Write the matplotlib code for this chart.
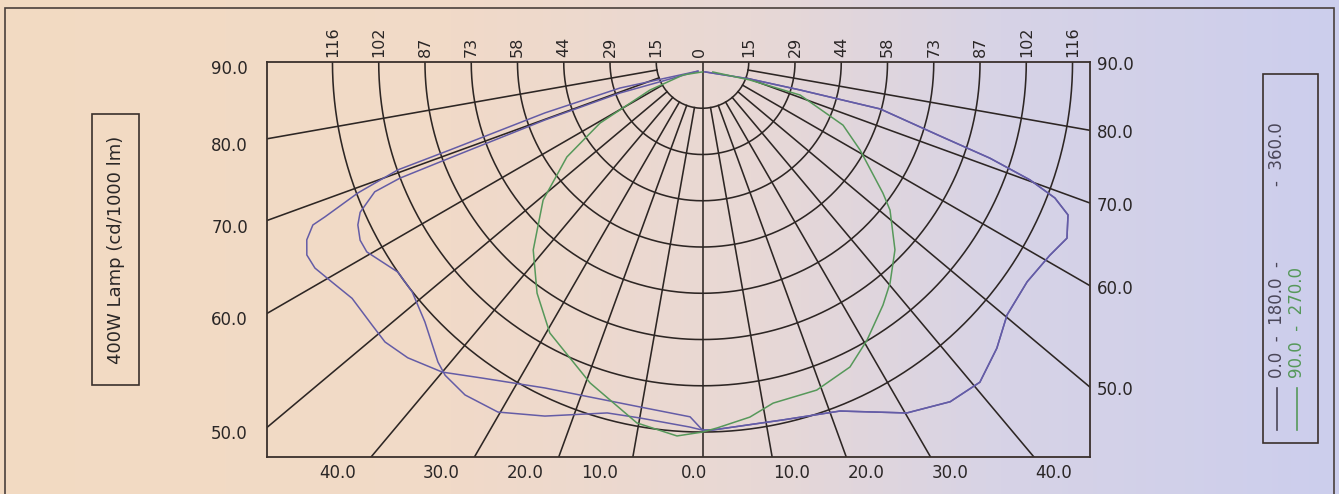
import numpy as np
import matplotlib
matplotlib.use("Agg")
import matplotlib.pyplot as plt
from matplotlib.patches import Rectangle
from matplotlib.lines import Line2D

# ---------------- data ----------------
# ring intensities (cd/1000 lm) and their printed labels
ring_values = [14.5, 29.0, 43.5, 58.0, 72.5, 87.0, 101.5, 116.0]
ring_labels = ["15", "29", "44", "58", "73", "87", "102", "116"]
# radial (gamma) grid angles
ray_angles = [0, 10, 20, 30, 40, 50, 60, 70, 80]
side_label_angles = [90, 80, 70, 60, 50]
bottom_label_angles = [0, 10, 20, 30, 40]

# C0 half (right side, purple)
c0_gamma = [0, 1.6, 12.7, 21.5, 30.2, 36.1, 40.9, 45.8, 50.3, 55.9, 60.9, 64.2,
            67.3, 68.9, 70.2, 71.5, 72.7, 75.2, 74.0, 70.3, 14.0]
c0_int = [115.4, 115.4, 115.0, 117.6, 127.3, 131.8, 132.8, 128.7, 124.1, 122.9,
          124.6, 126.9, 124.2, 118.4, 109.1, 95.0, 78.0, 57.6, 31.8, 15.8, 3.2]

# C180 half (left side, outer purple)
c180_gamma = [0, 2.0, 10.3, 18.6, 25.8, 34.9, 40.0, 44.9, 48.6, 51.5, 56.0, 59.3,
              62.0, 64.0, 65.8, 67.3, 67.7, 69.2, 70.5, 70.8, 72.1, 72.5, 26.6]
c180_int = [115.4, 111.3, 109.9, 110.8, 113.5, 120.8, 126.9, 130.9, 132.7, 132.4,
            132.5, 135.1, 137.6, 138.0, 136.0, 132.4, 127.9, 115.5, 101.3, 83.8,
            51.9, 27.1, 3.2]

# second left half (inner purple)
c360_gamma = [0, 2.0, 10.0, 15.2, 24.0, 30.3, 35.5, 39.4, 41.4, 46.9, 51.6, 55.4,
              60.5, 62.5, 64.7, 66.3, 68.4, 69.0, 69.2, 69.8, 69.4, 26.6]
c360_int = [115.4, 114.5, 113.3, 114.0, 121.5, 127.1, 128.2, 127.1, 125.4, 119.2,
            116.1, 116.0, 120.9, 121.0, 119.5, 117.2, 110.5, 101.6, 84.7, 52.6,
            27.6, 3.2]

# C90 half (right side, green)
c90_gamma = [0, 2.3, 7.6, 11.7, 19.2, 25.8, 30.6, 36.6, 40.3, 45.7, 51.7, 54.0,
             60.8, 65.8, 71.3, 69.2, 46.0]
c90_int = [116.0, 114.8, 112.3, 109.2, 108.9, 106.2, 101.3, 94.9, 90.9, 84.3,
           74.9, 69.9, 56.6, 48.3, 32.3, 15.9, 4.5]

# C270 half (left side, green)
c270_gamma = [0, 3.9, 10.3, 19.3, 29.4, 35.6, 42.0, 49.1, 55.0, 59.2, 61.9, 56.3, 0]
c270_int = [116.0, 117.5, 115.0, 106.6, 97.5, 89.1, 79.3, 66.1, 51.9, 37.4, 18.7,
            7.3, 3.1]

ylabel_text = "400W Lamp (cd/1000 lm)"
legend_text_1a = "0.0  -  180.0  -"
legend_text_1b = "-  360.0"
legend_text_2 = "90.0  -  270.0"

# ---------------- layout ----------------
W, H = 1339, 494
PX = 3.19                      # pixels per cd/klm
CX, CY = 702.5, 62             # pole position in pixels
AX_L, AX_R, AX_T, AX_B = 267, 1090, 62, 457

GRID = "#2d2624"
PURPLE = "#645ca6"
GREEN = "#56985a"
TXT = "#2a2626"
LEG1 = "#4a4658"

plt.rcParams['font.family'] = ['DejaVu Sans']


def fx(px):
    return px / W


def fy(py):
    return 1 - py / H


fig = plt.figure(figsize=(W / 100, H / 100), dpi=100)

# background gradient
bg = fig.add_axes([0, 0, 1, 1])
bg.axis('off')
xs = np.arange(W)
stops_x = [0, 450, 750, 1000, 1339]
stops_c = [(243, 218, 194), (241, 218, 200), (232, 216, 213), (215, 211, 230), (204, 206, 237)]
grad = np.zeros((1, W, 3))
for ch in range(3):
    grad[0, :, ch] = np.interp(xs, stops_x, [c[ch] for c in stops_c]) / 255.0
bg.imshow(grad, aspect='auto', extent=[0, 1, 0, 1], zorder=0)
bg.set_xlim(0, 1)
bg.set_ylim(0, 1)

# outer frame
fig.patches.append(Rectangle((fx(5), -0.05), fx(1334) - fx(5), fy(8) + 0.05,
                             transform=fig.transFigure, fill=False,
                             edgecolor="#4a403c", lw=1.2, zorder=1))

# main axes
ax = fig.add_axes([fx(AX_L), fy(AX_B), fx(AX_R) - fx(AX_L), fy(AX_T) - fy(AX_B)])
ax.set_facecolor('none')
xmin = -(CX - AX_L) / PX
xmax = (AX_R - CX) / PX
ymin = -(AX_B - CY) / PX
ax.set_xlim(xmin, xmax)
ax.set_ylim(ymin, 0)
ax.set_xticks([])
ax.set_yticks([])
for sp in ax.spines.values():
    sp.set_color("#3a302c")
    sp.set_linewidth(1.3)

# rings
th = np.radians(np.linspace(-90, 90, 361))
for r in ring_values:
    ax.plot(r * np.sin(th), -r * np.cos(th), color=GRID, lw=1.15, zorder=2)

# rays
rr = np.array([ring_values[0], 400])
for a in ray_angles:
    g = np.radians(a)
    if a == 0:
        ax.plot([0, 0], [0, -400], color=GRID, lw=1.15, zorder=2)
        continue
    for side in (-1, 1):
        ax.plot(side * rr * np.sin(g), -rr * np.cos(g), color=GRID, lw=1.15, zorder=2)


def to_xy(gamma, inten, side):
    g = np.radians(np.asarray(gamma, float))
    i = np.asarray(inten, float)
    return side * i * np.sin(g), -i * np.cos(g)


def full_curve(left_g, left_i, right_g, right_i):
    lx, ly = to_xy(left_g, left_i, -1)
    rx, ry = to_xy(right_g, right_i, 1)
    return np.concatenate([lx[::-1], rx]), np.concatenate([ly[::-1], ry])


x1, y1 = full_curve(c180_gamma, c180_int, c0_gamma, c0_int)
x2, y2 = full_curve(c360_gamma, c360_int, c0_gamma, c0_int)
x3, y3 = full_curve(c270_gamma, c270_int, c90_gamma, c90_int)
for xx, yy, col in ((x1, y1, PURPLE), (x2, y2, PURPLE), (x3, y3, GREEN)):
    ax.plot(xx, yy, color=col, lw=1.1, zorder=3, solid_joinstyle='round')

# top ring labels
for r, lab in zip(ring_values, ring_labels):
    for side in (-1, 1):
        ax.annotate(lab, (side * r, 0), xytext=(0, 5), textcoords='offset pixels',
                    rotation=90, ha='center', va='bottom', fontsize=11.5,
                    color=TXT, annotation_clip=False)
ax.annotate("0", (0, 0), xytext=(-3, 5), textcoords='offset pixels',
            rotation=90, ha='center', va='bottom', fontsize=11.5, color=TXT,
            annotation_clip=False)

# side labels
for a in side_label_angles:
    for side, xe in ((-1, xmin), (1, xmax)):
        if a == 90:
            yv = 0.0
        else:
            yv = -abs(xe) / np.tan(np.radians(a))
        if yv < ymin:
            continue
        if side < 0:
            ax.annotate(f"{a:.1f}", (xe, yv), xytext=(-19, 2), textcoords='offset pixels',
                        ha='right', va='top', fontsize=12, color=TXT,
                        annotation_clip=False)
        else:
            ax.annotate(f"{a:.1f}", (xe, yv), xytext=(7, -3), textcoords='offset pixels',
                        ha='left', va='center', fontsize=12, color=TXT,
                        annotation_clip=False)

# bottom labels
for a in bottom_label_angles:
    xb = abs(ymin) * np.tan(np.radians(a))
    if a == 0:
        ax.annotate("0.0", (0, ymin), xytext=(-8, -7), textcoords='offset pixels',
                    ha='center', va='top', fontsize=12, color=TXT, annotation_clip=False)
        continue
    ax.annotate(f"{a:.1f}", (-xb, ymin), xytext=(-15, -7), textcoords='offset pixels',
                ha='right', va='top', fontsize=12, color=TXT, annotation_clip=False)
    ax.annotate(f"{a:.1f}", (xb, ymin), xytext=(1, -7), textcoords='offset pixels',
                ha='left', va='top', fontsize=12, color=TXT, annotation_clip=False)

# left label box
fig.patches.append(Rectangle((fx(92), fy(385)), fx(139) - fx(92), fy(114) - fy(385),
                             transform=fig.transFigure, fill=False,
                             edgecolor="#3a302c", lw=1.2, zorder=3))
fig.text(fx(116), fy(250), ylabel_text, rotation=90, ha='center', va='center',
         fontsize=13, color=TXT)

# legend box
fig.patches.append(Rectangle((fx(1263), fy(443)), fx(1318) - fx(1263), fy(74) - fy(443),
                             transform=fig.transFigure, fill=False,
                             edgecolor="#3a302c", lw=1.2, zorder=3))
fig.lines.append(Line2D([fx(1277), fx(1277)], [fy(430), fy(388)],
                        transform=fig.transFigure, color=LEG1, lw=1.2))
fig.lines.append(Line2D([fx(1297), fx(1297)], [fy(430), fy(388)],
                        transform=fig.transFigure, color=GREEN, lw=1.2))
fig.text(fx(1277), fy(378), legend_text_1a, rotation=90, ha='center', va='bottom',
         fontsize=12, color=LEG1)
fig.text(fx(1277), fy(186), legend_text_1b, rotation=90, ha='center', va='bottom',
         fontsize=12, color=LEG1)
fig.text(fx(1297), fy(378), legend_text_2, rotation=90, ha='center', va='bottom',
         fontsize=12, color=GREEN)

fig.savefig("out.png", dpi=100)
